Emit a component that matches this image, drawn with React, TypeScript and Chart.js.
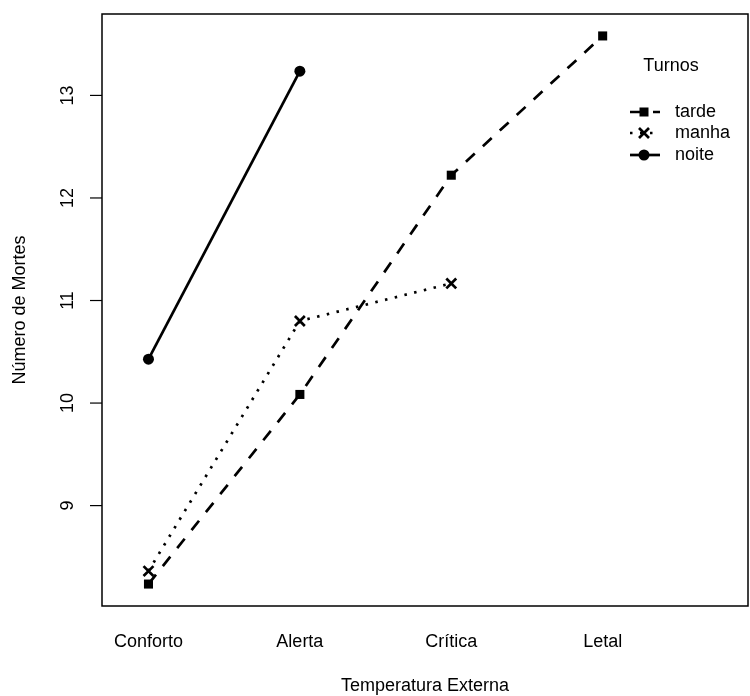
import React, { useEffect, useRef } from "react";
import { Chart, registerables } from "chart.js";

Chart.register(...registerables);

const categories = ["Conforto", "Alerta", "Crítica", "Letal"];
const tarde = [8.235, 10.084, 12.222, 13.58];
const manha = [8.362, 10.8, 11.167];
const noite = [10.428, 13.236];
const yTicks = [9, 10, 11, 12, 13];
const seriesNames = ["tarde", "manha", "noite"];
const legendTitle = "Turnos";
const xTitle = "Temperatura Externa";
const yTitle = "Número de Mortes";

const FONT = '18px "Liberation Sans", Arial, sans-serif';
const LW = 2.7;
const DASHES = [[12, 11], [2.5, 7.5], []];
const STYLES = ["rect", "crossRot", "circle"];

const toPts = (arr: number[]) => arr.map((v, i) => ({ x: i + 1, y: v }));

function drawMarker(ctx: CanvasRenderingContext2D, style: string, x: number, y: number) {
  ctx.save();
  ctx.setLineDash([]);
  ctx.fillStyle = "#000";
  ctx.strokeStyle = "#000";
  if (style === "rect") {
    ctx.fillRect(x - 4.5, y - 4.5, 9, 9);
  } else if (style === "crossRot") {
    ctx.lineWidth = LW;
    const o = 5;
    ctx.beginPath();
    ctx.moveTo(x - o, y - o);
    ctx.lineTo(x + o, y + o);
    ctx.moveTo(x - o, y + o);
    ctx.lineTo(x + o, y - o);
    ctx.stroke();
  } else {
    ctx.beginPath();
    ctx.arc(x, y, 5.5, 0, Math.PI * 2);
    ctx.fill();
  }
  ctx.restore();
}

const decorations = {
  id: "rDecorations",
  afterDraw(chart: any) {
    const ctx: CanvasRenderingContext2D = chart.ctx;
    const { left, right, top, bottom } = chart.chartArea;
    const xs = chart.scales.x;
    const ys = chart.scales.y;
    ctx.save();
    ctx.strokeStyle = "#000";
    ctx.fillStyle = "#000";
    ctx.lineWidth = 1.5;
    ctx.setLineDash([]);
    ctx.strokeRect(left, top, right - left, bottom - top);

    ctx.font = FONT;
    ctx.textAlign = "center";
    ctx.textBaseline = "middle";
    ctx.lineWidth = 1.2;
    yTicks.forEach((v) => {
      const py = ys.getPixelForValue(v);
      ctx.beginPath();
      ctx.moveTo(left - 12, py);
      ctx.lineTo(left, py);
      ctx.stroke();
      ctx.save();
      ctx.translate(68, py);
      ctx.rotate(-Math.PI / 2);
      ctx.fillText(String(v), 0, 0);
      ctx.restore();
    });
    categories.forEach((c, i) => {
      ctx.fillText(c, xs.getPixelForValue(i + 1), 642);
    });
    ctx.fillText(xTitle, (left + right) / 2, 686);
    ctx.save();
    ctx.translate(20, (top + bottom) / 2);
    ctx.rotate(-Math.PI / 2);
    ctx.fillText(yTitle, 0, 0);
    ctx.restore();

    // legend
    ctx.fillText(legendTitle, 671, 66);
    const ly = [112, 133, 155];
    seriesNames.forEach((name, i) => {
      const y = ly[i];
      ctx.save();
      ctx.lineWidth = LW;
      ctx.setLineDash(DASHES[i]);
      ctx.beginPath();
      ctx.moveTo(630, y);
      ctx.lineTo(660, y);
      ctx.stroke();
      ctx.restore();
      drawMarker(ctx, STYLES[i], 644, y);
      ctx.textAlign = "left";
      ctx.fillText(name, 675, y);
    });
    ctx.restore();
  },
};

export default function App() {
  const ref = useRef<HTMLCanvasElement | null>(null);
  useEffect(() => {
    if (!ref.current) return;
    const mk = (data: number[], i: number, radius: number) => ({
      label: seriesNames[i],
      data: toPts(data),
      borderColor: "#000",
      backgroundColor: "#000",
      borderWidth: LW,
      borderDash: DASHES[i],
      pointStyle: STYLES[i],
      pointRadius: radius,
      pointBackgroundColor: "#000",
      pointBorderColor: "#000",
      pointBorderWidth: i === 1 ? LW : 0,
      tension: 0,
      fill: false,
      clip: false,
    });
    const chart = new Chart(ref.current, {
      type: "line",
      data: {
        datasets: [mk(tarde, 0, 6.4), mk(manha, 1, 7), mk(noite, 2, 5.5)],
      },
      options: {
        responsive: false,
        animation: false,
        events: [],
        layout: { autoPadding: false, padding: { left: 102, right: 2, top: 14, bottom: 90 } },
        plugins: { legend: { display: false }, tooltip: { enabled: false } },
        scales: {
          x: { type: "linear", min: 0.693, max: 4.96, display: false },
          y: { type: "linear", min: 8.021, max: 13.794, display: false },
        },
      },
      plugins: [decorations],
    });
    return () => chart.destroy();
  }, []);
  return (
    <div style={{ position: "fixed", left: 0, top: 0, width: 750, height: 696, background: "#fff" }}>
      <canvas ref={ref} width={750} height={696} style={{ display: "block" }} />
    </div>
  );
}
